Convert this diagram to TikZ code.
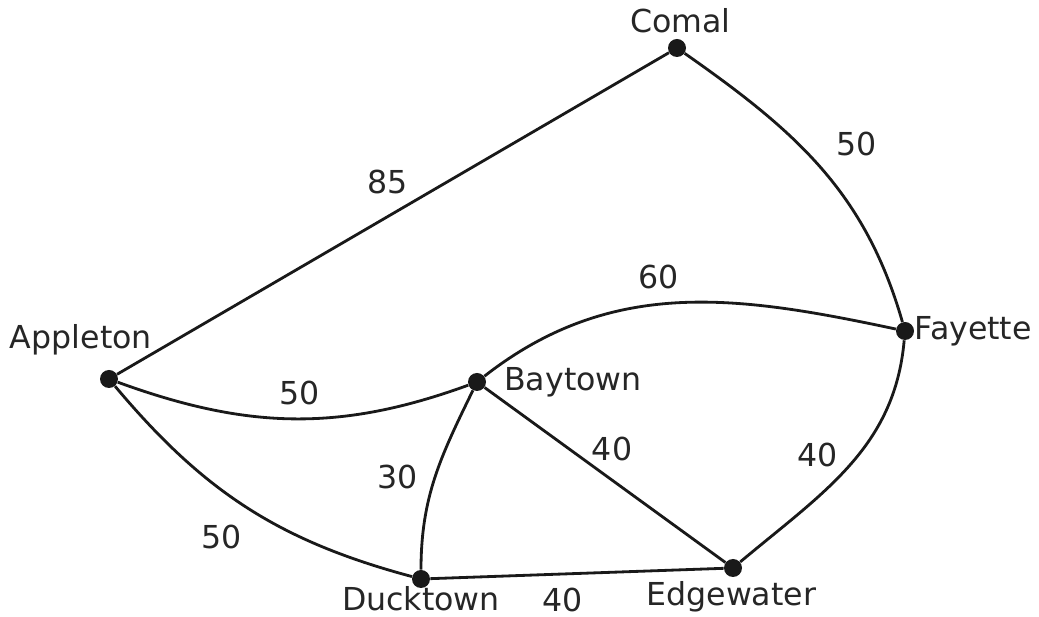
\documentclass[tikz,border=0pt]{standalone}
\usepackage{fontspec}
\setmainfont{DejaVu Sans}
\usetikzlibrary{positioning}

\begin{document}
\begin{tikzpicture}[
  x=0.02cm,y=-0.02cm,
  font=\fontsize{18}{21}\selectfont,
  town/.style={circle,fill=black!90,inner sep=0pt,minimum size=0.36cm},
  townname/.style={inner sep=0pt,text=black!85},
  road/.style={line width=1.6pt,black!90},
  dist/.style={inner sep=0pt,text=black!85}
]
  \useasboundingbox (0,0) rectangle (1039,617);
  % towns
  \node[town] (c) at (677,48) {};
  \node[town] (f) at (905,331) {};
  \node[town] (a) at (109,379) {};
  \node[town] (b) at (477,382) {};
  \node[town] (d) at (421,579) {};
  \node[town] (e) at (733,568) {};
  % names
  \node[townname,above=3pt of c,xshift=2pt] (cname) {Comal};
  \node[townname,right=0pt of f] (fname) {Fayette};
  \node[townname,above=8pt of a,xshift=-16pt] (aname) {Appleton};
  \node[townname,right=10pt of b] (bname) {Baytown};
  \node[townname,below=-1pt of d] (dname) {Ducktown};
  \node[townname,below=2pt of e,xshift=-1pt] (ename) {Edgewater};
  % roads
  \draw[road] (a) -- (c) node[dist,pos=.49,above=12pt] {85};
  \draw[road] (c) to[out=-35,in=106] node[dist,pos=.4,right=21pt] {50} (f);
  \draw[road] (b) to[out=38,in=168] node[dist,pos=.45,above=8pt] {60} (f);
  \draw[road] (a) to[out=-20,in=200] node[dist,pos=.52,above=7pt] {50} (b);
  \draw[road] (a) to[out=-50,in=165] node[dist,pos=.5,below left=6pt,yshift=-5pt,xshift=2pt] {50} (d);
  \draw[road] (b) to[out=-116,in=90] node[dist,pos=.5,left=9pt] {30} (d);
  \draw[road] (b) -- (e) node[dist,pos=.5,above=7pt,xshift=4pt] {40};
  \draw[road] (f) to[out=-95,in=40] node[dist,pos=.45,left=11pt] {40} (e);
  \draw[road] (d) -- (e) node[dist,pos=.45,below=7pt] {40};
\end{tikzpicture}
\end{document}
